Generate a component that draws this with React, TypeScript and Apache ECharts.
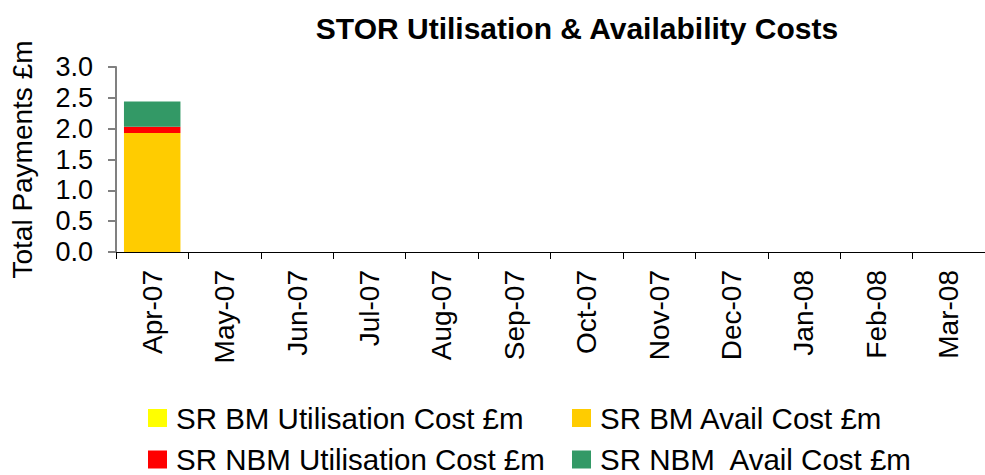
import React, { useEffect, useRef } from "react";
import * as echarts from "echarts";

const categories = ["Apr-07", "May-07", "Jun-07", "Jul-07", "Aug-07", "Sep-07", "Oct-07", "Nov-07", "Dec-07", "Jan-08", "Feb-08", "Mar-08"];
const srBmUtil = [0, null, null, null, null, null, null, null, null, null, null, null];
const srBmAvail = [1.93, null, null, null, null, null, null, null, null, null, null, null];
const srNbmUtil = [0.1, null, null, null, null, null, null, null, null, null, null, null];
const srNbmAvail = [0.41, null, null, null, null, null, null, null, null, null, null, null];
const seriesNames = ["SR BM Utilisation Cost £m", "SR BM Avail Cost £m", "SR NBM Utilisation Cost £m", "SR NBM  Avail Cost £m"];
const colors = ["#FFFF00", "#FFCC00", "#FF0000", "#339966"];

const FONT = "'Liberation Sans', Arial, sans-serif";

export default function App() {
  const ref = useRef<HTMLDivElement>(null);
  useEffect(() => {
    if (!ref.current) return;
    const chart = echarts.init(ref.current, null, { renderer: "svg" });
    const dataSets = [srBmUtil, srBmAvail, srNbmUtil, srNbmAvail];
    const legendPos = [
      { left: 148, top: 403 },
      { left: 572, top: 403 },
      { left: 148, top: 444.5 },
      { left: 572, top: 444.5 },
    ];
    chart.setOption({
      animation: false,
      backgroundColor: "#ffffff",
      title: {
        text: "STOR Utilisation & Availability Costs",
        left: 572,
        top: 8,
        textAlign: "center",
        textStyle: { fontFamily: FONT, fontSize: 30, fontWeight: "bold", color: "#000" },
      },
      legend: seriesNames.map((n, i) => ({
        data: [n],
        left: legendPos[i].left,
        top: legendPos[i].top,
        padding: 0,
        icon: "rect",
        itemWidth: 19,
        itemHeight: 18,
        selectedMode: false,
        textStyle: { fontFamily: FONT, fontSize: 29.5, lineHeight: 29.5, color: "#000", padding: [0, 0, 0, 4] },
      })),
      grid: { left: 115, top: 67, bottom: 223, right: -9, containLabel: false },
      xAxis: {
        type: "category",
        data: categories,
        axisLine: { lineStyle: { color: "#000", width: 1 } },
        axisTick: { show: true, length: 7, lineStyle: { color: "#000" }, alignWithLabel: false },
        axisLabel: { rotate: 90, fontFamily: FONT, fontSize: 28, color: "#000", margin: 18, interval: 0 },
      },
      yAxis: {
        type: "value",
        min: 0,
        max: 3,
        interval: 0.5,
        name: "Total Payments £m",
        nameLocation: "middle",
        nameGap: 80,
        nameTextStyle: { fontFamily: FONT, fontSize: 28, color: "#000" },
        axisLine: { show: true, lineStyle: { color: "#808080", width: 2 } },
        axisTick: { show: true, length: 8, lineStyle: { color: "#808080", width: 2 } },
        splitLine: { show: false },
        axisLabel: {
          fontFamily: FONT,
          fontSize: 27,
          color: "#000",
          margin: 23,
          formatter: (v: number) => v.toFixed(1),
        },
      },
      series: dataSets.map((d, i) => ({
        name: seriesNames[i],
        type: "bar",
        stack: "total",
        data: d,
        barCategoryGap: "22%",
        itemStyle: { color: colors[i] },
      })),
    });
    return () => chart.dispose();
  }, []);
  return (
    <div
      ref={ref}
      style={{ position: "absolute", left: 0, top: 0, width: 985, height: 475, background: "#fff" }}
    />
  );
}
